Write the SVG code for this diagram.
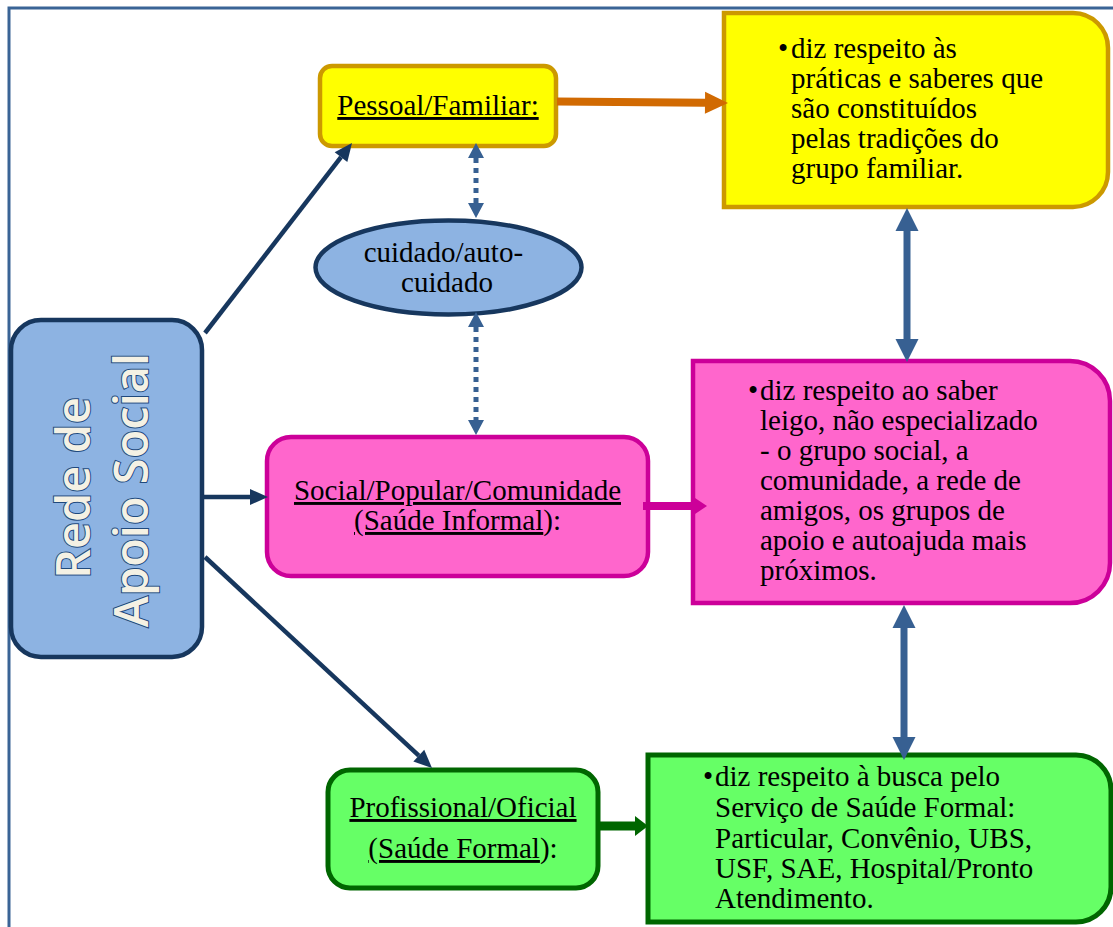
<svg xmlns="http://www.w3.org/2000/svg" width="1113" height="927" viewBox="0 0 1113 927">
  <style>
    .lbl { font-family: "Liberation Serif", "Times New Roman", serif; font-size: 29px; fill: #000; }
    .mid { text-anchor: middle; }
    .ul { text-decoration: underline; }
    .title { font-family: "Open Sans", "Liberation Sans", sans-serif; font-size: 47px; font-weight: 600; fill: #F4F1E4; stroke: #1F497D; stroke-width: 2px; paint-order: stroke; text-anchor: middle; }
    .navy { stroke: #17375E; stroke-width: 4.5; fill: none; }
    .steel { stroke: #376092; stroke-width: 7; fill: none; }
    .dots { stroke: #376092; stroke-width: 5; stroke-dasharray: 5 5; fill: none; }
  </style>
  <defs>
    <marker id="headNavy" markerUnits="userSpaceOnUse" markerWidth="20" markerHeight="18" refX="0" refY="8" orient="auto" overflow="visible">
      <path d="M0,0 L18,8 L0,16 Z" fill="#17375E"/>
    </marker>
    <marker id="headOrange" markerUnits="userSpaceOnUse" markerWidth="24" markerHeight="24" refX="0" refY="11" orient="auto" overflow="visible">
      <path d="M0,0 L23,11 L0,22 Z" fill="#D16A02"/>
    </marker>
    <marker id="headPink" markerUnits="userSpaceOnUse" markerWidth="16" markerHeight="22" refX="0" refY="10" orient="auto" overflow="visible">
      <path d="M0,0 L15,10 L0,20 Z" fill="#CC0099"/>
    </marker>
    <marker id="headGreen" markerUnits="userSpaceOnUse" markerWidth="14" markerHeight="22" refX="0" refY="10" orient="auto" overflow="visible">
      <path d="M0,0 L13,10 L0,20 Z" fill="#006600"/>
    </marker>
    <marker id="headSteel" markerUnits="userSpaceOnUse" markerWidth="24" markerHeight="24" refX="0" refY="11.5" orient="auto-start-reverse" overflow="visible">
      <path d="M0,0 L23,11.5 L0,23 Z" fill="#376092"/>
    </marker>
    <marker id="headDot" markerUnits="userSpaceOnUse" markerWidth="16" markerHeight="18" refX="0" refY="8" orient="auto-start-reverse" overflow="visible">
      <path d="M0,0 L15,8 L0,16 Z" fill="#376092"/>
    </marker>
  </defs>

  <!-- page frame -->
  <path d="M9,927 V8 H1113" fill="none" stroke="#3A6496" stroke-width="3"/>

  <!-- root node -->
  <g id="rede-apoio-social">
    <rect x="11" y="320" width="191" height="337" rx="30" fill="#8DB3E2" stroke="#17375E" stroke-width="4.5"/>
    <text class="title" transform="translate(90,488) rotate(-90)">Rede de</text>
    <text class="title" transform="translate(148,490) rotate(-90)">Apoio Social</text>
  </g>

  <!-- family level -->
  <g id="pessoal-familiar">
    <rect x="320" y="66" width="236" height="80" rx="12" fill="#FFFF00" stroke="#CC9900" stroke-width="4.5"/>
    <text class="lbl mid ul" x="438" y="115">Pessoal/Familiar:</text>
  </g>

  <g id="pessoal-descricao">
    <path d="M724,13 H1073 A35,35 0 0 1 1108,48 V172 A35,35 0 0 1 1073,207 H724 Z" fill="#FFFF00" stroke="#CC9900" stroke-width="4.5"/>
    <text class="lbl" x="778" y="58">•</text>
    <text class="lbl">
      <tspan x="791" y="58">diz respeito às</tspan>
      <tspan x="791" y="88">práticas e saberes que</tspan>
      <tspan x="791" y="118">são constituídos</tspan>
      <tspan x="791" y="148">pelas tradições do</tspan>
      <tspan x="791" y="178">grupo familiar.</tspan>
    </text>
  </g>

  <!-- self care -->
  <g id="cuidado">
    <ellipse cx="448.5" cy="267.5" rx="133" ry="47" fill="#8DB3E2" stroke="#17375E" stroke-width="4.5"/>
    <text class="lbl mid">
      <tspan x="447" y="262">cuidado/auto-</tspan>
      <tspan x="447" y="292">cuidado</tspan>
    </text>
  </g>

  <!-- community level -->
  <g id="social-popular">
    <rect x="267" y="437" width="381" height="139" rx="24" fill="#FF66CC" stroke="#CC0099" stroke-width="4.5"/>
    <text class="lbl mid ul" x="457.5" y="500">Social/Popular/Comunidade</text>
    <text class="lbl mid" x="457.5" y="530"><tspan class="ul">(Saúde Informal</tspan>):</text>
  </g>

  <g id="social-descricao">
    <path d="M693,361 H1070 A40,40 0 0 1 1110,401 V563 A40,40 0 0 1 1070,603 H693 Z" fill="#FF66CC" stroke="#CC0099" stroke-width="4.5"/>
    <text class="lbl" x="748" y="400">•</text>
    <text class="lbl">
      <tspan x="760" y="400">diz respeito ao saber</tspan>
      <tspan x="760" y="430">leigo, não especializado</tspan>
      <tspan x="760" y="460">- o grupo social, a</tspan>
      <tspan x="760" y="490">comunidade, a rede de</tspan>
      <tspan x="760" y="520">amigos, os grupos de</tspan>
      <tspan x="760" y="550">apoio e autoajuda mais</tspan>
      <tspan x="760" y="580">próximos.</tspan>
    </text>
  </g>

  <!-- formal level -->
  <g id="profissional-oficial">
    <rect x="328" y="770" width="270" height="118" rx="22" fill="#66FF66" stroke="#006600" stroke-width="5"/>
    <text class="lbl mid ul" x="463" y="817">Profissional/Oficial</text>
    <text class="lbl mid" x="463" y="858"><tspan class="ul">(Saúde Formal</tspan>):</text>
  </g>

  <g id="profissional-descricao">
    <path d="M648,755 H1076 A35,35 0 0 1 1111,790 V887 A35,35 0 0 1 1076,922 H648 Z" fill="#66FF66" stroke="#006600" stroke-width="5"/>
    <text class="lbl" x="703" y="786">•</text>
    <text class="lbl">
      <tspan x="715" y="786">diz respeito à busca pelo</tspan>
      <tspan x="715" y="817">Serviço de Saúde Formal:</tspan>
      <tspan x="715" y="848">Particular, Convênio, UBS,</tspan>
      <tspan x="715" y="878">USF, SAE, Hospital/Pronto</tspan>
      <tspan x="715" y="908">Atendimento.</tspan>
    </text>
  </g>

  <!-- connectors, drawn over the boxes -->
  <g id="connectors">
    <line class="navy" x1="205" y1="333" x2="341" y2="157.2" marker-end="url(#headNavy)"/>
    <line class="navy" x1="200" y1="497" x2="250" y2="497" marker-end="url(#headNavy)"/>
    <line class="navy" x1="205" y1="557" x2="418.8" y2="755.7" marker-end="url(#headNavy)"/>
    <line x1="557" y1="101.5" x2="705" y2="102.8" stroke="#D16A02" stroke-width="8" marker-end="url(#headOrange)"/>
    <line x1="643" y1="506" x2="692" y2="506" stroke="#CC0099" stroke-width="8" marker-end="url(#headPink)"/>
    <line x1="596" y1="826" x2="635" y2="826" stroke="#006600" stroke-width="9" marker-end="url(#headGreen)"/>
    <line class="steel" x1="907" y1="231" x2="907" y2="339" marker-start="url(#headSteel)" marker-end="url(#headSteel)"/>
    <line class="steel" x1="904" y1="628" x2="904" y2="737" marker-start="url(#headSteel)" marker-end="url(#headSteel)"/>
    <line class="dots" x1="476" y1="158" x2="476" y2="203" marker-start="url(#headDot)" marker-end="url(#headDot)"/>
    <line class="dots" x1="476" y1="327" x2="476" y2="420" marker-start="url(#headDot)" marker-end="url(#headDot)"/>
  </g>
</svg>
